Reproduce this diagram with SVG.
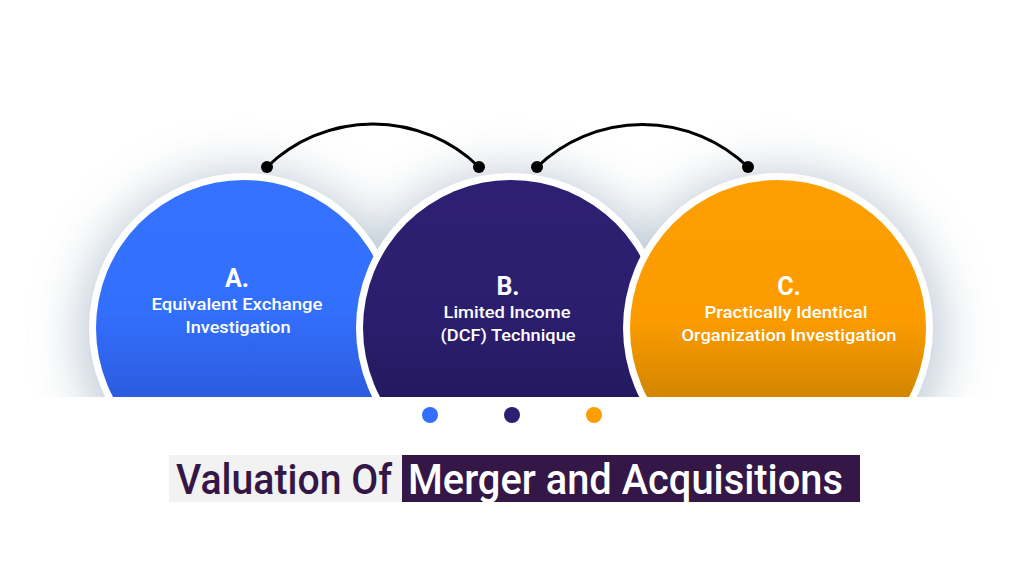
<svg xmlns="http://www.w3.org/2000/svg" width="1024" height="576" viewBox="0 0 1024 576">
<defs>
<clipPath id="cut"><rect x="0" y="0" width="1024" height="397"/></clipPath>
<filter id="blur" x="-50%" y="-50%" width="200%" height="200%"><feGaussianBlur stdDeviation="26"/></filter>
<linearGradient id="gA" gradientUnits="userSpaceOnUse" x1="0" y1="180" x2="0" y2="397">
<stop offset="0" stop-color="#3472ff"/><stop offset="0.6" stop-color="#336ffd"/><stop offset="1" stop-color="#2c5cdf"/></linearGradient>
<linearGradient id="gB" gradientUnits="userSpaceOnUse" x1="0" y1="180" x2="0" y2="397">
<stop offset="0" stop-color="#2e1f72"/><stop offset="0.6" stop-color="#2c1e6e"/><stop offset="1" stop-color="#241960"/></linearGradient>
<linearGradient id="gC" gradientUnits="userSpaceOnUse" x1="0" y1="180" x2="0" y2="397">
<stop offset="0" stop-color="#fd9e02"/><stop offset="0.65" stop-color="#fb9b00"/><stop offset="1" stop-color="#d38600"/></linearGradient>
<style>
.ring{fill:#ffffff}
.lbl{font-family:Roboto,"Liberation Sans",sans-serif;font-weight:500;fill:#ffffff;text-anchor:middle}
.big{font-size:25px;font-weight:700}
.sm{font-size:16.5px}
.arc{fill:none;stroke:#000000;stroke-width:3}
.dot{fill:#000000}
.ttl{font-family:Roboto,"Liberation Sans",sans-serif;font-weight:500;font-size:42px}
</style>
</defs>
<rect width="1024" height="576" fill="#ffffff"/>
<g clip-path="url(#cut)">
<g filter="url(#blur)" fill="#a8b8c8" opacity="0.8">
<circle cx="244" cy="336" r="162"/>
<circle cx="511" cy="336" r="162"/>
<circle cx="778" cy="336" r="162"/>
</g>
<g id="nodeA">
<circle class="ring" cx="244" cy="328" r="155"/>
<circle cx="244" cy="328" r="148" fill="url(#gA)"/>
<text class="lbl big" x="237" y="287">A.</text>
<text class="lbl sm" x="237" y="310" textLength="171" lengthAdjust="spacingAndGlyphs">Equivalent Exchange</text>
<text class="lbl sm" x="238" y="333" textLength="105" lengthAdjust="spacingAndGlyphs">Investigation</text>
</g>
<g id="nodeB">
<circle class="ring" cx="511" cy="328" r="155"/>
<circle cx="511" cy="328" r="148" fill="url(#gB)"/>
<text class="lbl big" x="508" y="295">B.</text>
<text class="lbl sm" x="507" y="318" textLength="127" lengthAdjust="spacingAndGlyphs">Limited Income</text>
<text class="lbl sm" x="508" y="341" textLength="135" lengthAdjust="spacingAndGlyphs">(DCF) Technique</text>
</g>
<g id="nodeC">
<circle class="ring" cx="778" cy="328" r="155"/>
<circle cx="778" cy="328" r="148" fill="url(#gC)"/>
<text class="lbl big" x="789" y="295">C.</text>
<text class="lbl sm" x="786" y="318" textLength="163" lengthAdjust="spacingAndGlyphs">Practically Identical</text>
<text class="lbl sm" x="789" y="341" textLength="215" lengthAdjust="spacingAndGlyphs">Organization Investigation</text>
</g>
</g>
<g id="connectors">
<path class="arc" d="M267,167 A152,152 0 0 1 479,167"/>
<path class="arc" d="M537,167 A152,152 0 0 1 748,167"/>
<circle class="dot" cx="267" cy="167" r="6"/>
<circle class="dot" cx="479" cy="167" r="6"/>
<circle class="dot" cx="537" cy="167" r="6"/>
<circle class="dot" cx="748" cy="167" r="6"/>
</g>
<g id="dots">
<circle cx="430" cy="415" r="8" fill="#336ffd"/>
<circle cx="512" cy="415" r="8" fill="#2e1f72"/>
<circle cx="594" cy="415" r="8" fill="#fd9e02"/>
</g>
<g id="title">
<rect x="169" y="455" width="233" height="47" fill="#f2f2f2"/>
<rect x="402" y="455" width="458" height="47" fill="#341746"/>
<text class="ttl" x="176" y="494" fill="#341746" textLength="216" lengthAdjust="spacingAndGlyphs">Valuation Of</text>
<text class="ttl" x="408" y="494" fill="#ffffff" textLength="435" lengthAdjust="spacingAndGlyphs">Merger and Acquisitions</text>
</g>
</svg>
